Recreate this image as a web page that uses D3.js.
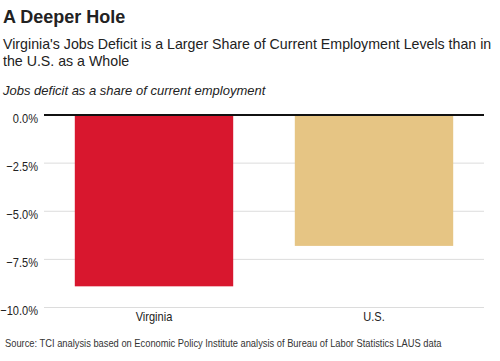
<!DOCTYPE html>
<html>
<head>
<meta charset="utf-8">
<script src="https://cdn.jsdelivr.net/npm/d3@7"></script>
<style>
  body { margin: 0; background: #fff; }
  svg { display: block; }
</style>
</head>
<body>
<div id="chart"></div>
<script>
// chart data
var categories = ["Virginia", "U.S."];
var deficitValues = [-8.9, -6.8];
var barColors = ["#d8172e", "#e6c584"];
var yTicks = [0, -2.5, -5, -7.5, -10];

var svgWidth = 500;
var svgHeight = 361;

var chartMargin = { top: 115, right: 16, bottom: 53.5, left: 44 };
var chartWidth = svgWidth - chartMargin.left - chartMargin.right;
var chartHeight = svgHeight - chartMargin.top - chartMargin.bottom;

// the reference uses a narrow face; squeeze regular text to fake it
function narrow(sel, factor) {
  sel.each(function() {
    var len = this.getComputedTextLength();
    d3.select(this)
      .attr("textLength", len * factor)
      .attr("lengthAdjust", "spacingAndGlyphs");
  });
}

var svg = d3.select("#chart")
  .append("svg")
  .attr("width", svgWidth)
  .attr("height", svgHeight);

// headings
svg.append("text")
  .attr("x", 3)
  .attr("y", 23)
  .style("font-family", "Liberation Sans, Arial, sans-serif")
  .style("font-weight", "bold")
  .style("font-size", "18px")
  .attr("fill", "#222")
  .text("A Deeper Hole");

var subLines = ["Virginia's Jobs Deficit is a Larger Share of Current Employment Levels than in", "the U.S. as a Whole"];
svg.selectAll(".sub")
  .data(subLines)
  .enter()
  .append("text")
  .attr("x", 3)
  .attr("y", (d, i) => 48.5 + i * 17)
  .style("font-family", "Liberation Sans, Arial, sans-serif")
  .style("font-size", "14.2px")
  .attr("fill", "#222")
  .text(d => d);

svg.append("text")
  .attr("x", 3)
  .attr("y", 95)
  .style("font-family", "Liberation Sans, Arial, sans-serif")
  .style("font-style", "italic")
  .style("font-size", "13px")
  .attr("fill", "#222")
  .text("Jobs deficit as a share of current employment");

var chartGroup = svg.append("g")
  .attr("transform", `translate(${chartMargin.left}, ${chartMargin.top})`);

var xScale = d3.scaleBand()
  .domain(categories)
  .range([0, chartWidth])
  .paddingInner(0.28)
  .paddingOuter(0.14);

var yScale = d3.scaleLinear()
  .domain([0, -10])
  .range([0, chartHeight]);

// gridlines
chartGroup.selectAll(".grid")
  .data(yTicks.filter(d => d != 0))
  .enter()
  .append("line")
  .attr("x1", 0)
  .attr("x2", chartWidth)
  .attr("y1", d => yScale(d))
  .attr("y2", d => yScale(d))
  .attr("stroke", "#dcdcdc")
  .attr("stroke-width", 1);

// bars
chartGroup.selectAll(".bar")
  .data(deficitValues)
  .enter()
  .append("rect")
  .attr("x", (d, i) => xScale(categories[i]))
  .attr("y", yScale(0))
  .attr("width", xScale.bandwidth())
  .attr("height", d => yScale(d) - yScale(0))
  .attr("fill", (d, i) => barColors[i]);

// zero line
chartGroup.append("line")
  .attr("x1", 0)
  .attr("x2", chartWidth)
  .attr("y1", yScale(0))
  .attr("y2", yScale(0))
  .attr("stroke", "#111")
  .attr("stroke-width", 2);

// y axis labels
var yAxis = d3.axisLeft(yScale)
  .tickValues(yTicks)
  .tickSize(0)
  .tickPadding(6)
  .tickFormat(d => d3.format(".1f")(d) + "%");

var yAxisGroup = chartGroup.append("g").call(yAxis);
yAxisGroup.select(".domain").remove();
yAxisGroup.selectAll("text")
  .attr("dy", "0.55em")
  .style("font-family", "Liberation Sans, Arial, sans-serif")
  .style("font-size", "13px")
  .attr("fill", "#222")
  .call(narrow, 0.85);

// x axis labels
var xAxis = d3.axisBottom(xScale).tickSize(0).tickPadding(4);
var xAxisGroup = chartGroup.append("g")
  .attr("transform", `translate(0, ${chartHeight})`)
  .call(xAxis);
xAxisGroup.select(".domain").remove();
xAxisGroup.selectAll("text")
  .style("font-family", "Liberation Sans, Arial, sans-serif")
  .style("font-size", "13px")
  .attr("fill", "#222")
  .call(narrow, 0.85);

// source, squeezed with a transform so its box stays honest
var sourceGroup = svg.append("g");
var sourceText = sourceGroup.append("text")
  .attr("x", 0)
  .attr("y", 0)
  .style("font-family", "Liberation Sans, Arial, sans-serif")
  .style("font-size", "11px")
  .attr("fill", "#333")
  .text("Source: TCI analysis based on Economic Policy Institute analysis of Bureau of Labor Statistics LAUS data");
var sourceLen = sourceText.node().getComputedTextLength();
sourceGroup.attr("transform", `translate(5, 347) scale(${437 / sourceLen}, 1)`);
</script>
</body>
</html>
